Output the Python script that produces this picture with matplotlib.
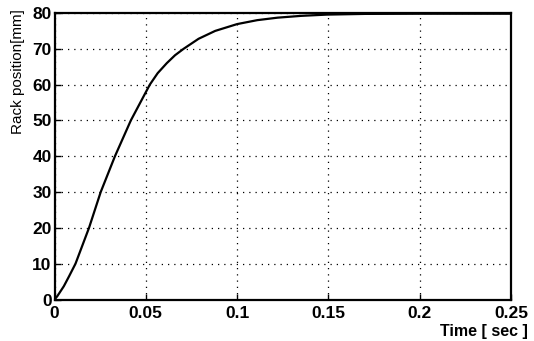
import matplotlib
matplotlib.use("Agg")
import matplotlib.pyplot as plt

time_s = [0, 0.0015, 0.0051, 0.008, 0.0115, 0.0189, 0.0253, 0.0331, 0.0418, 0.0522,
          0.0565, 0.0615, 0.066, 0.0707, 0.0789, 0.088, 0.1, 0.111, 0.1222, 0.135,
          0.149, 0.17, 0.2, 0.25]
rack_mm = [0, 0.9, 3.7, 6.5, 10, 20, 30, 40, 50, 60,
           63.2, 66.0, 68.2, 70, 72.8, 75.0, 76.9, 78.0, 78.7, 79.2,
           79.55, 79.75, 79.8, 79.8]
xticks = [0, 0.05, 0.1, 0.15, 0.2, 0.25]
xticklabels = ["0", "0.05", "0.1", "0.15", "0.2", "0.25"]
yticks = [0, 10, 20, 30, 40, 50, 60, 70, 80]

plt.rcParams['font.family'] = ['Liberation Sans', 'DejaVu Sans']
fig = plt.figure(figsize=(5.34, 3.41), dpi=100)
ax = fig.add_axes([54.5/534, 1 - 299.5/341, (511-54.5)/534, (299.5-13)/341])
ax.plot(time_s, rack_mm, color='black', lw=1.6, solid_joinstyle='round')
ax.set_xlim(0, 0.25)
ax.set_ylim(0, 80)
ax.set_xticks(xticks)
ax.set_xticklabels(xticklabels)
ax.set_yticks(yticks)
ax.grid(True, color='black', linestyle=(0, (1, 4)), lw=0.9)
ax.tick_params(direction='in', length=4, width=1, labelsize=12.5)
ax.tick_params(axis='x', pad=5)
ax.tick_params(axis='y', pad=2)
for lab in ax.get_xticklabels() + ax.get_yticklabels():
    lab.set_fontweight('bold')
for s in ax.spines.values():
    s.set_linewidth(1.6)
fig.text(18/534, 1 - 9/341, "Rack position[mm]", rotation=90, ha='center', va='top', fontsize=11)
fig.text(0.988, 1 - 331.5/341, "Time [ sec ]", ha='right', va='center', fontsize=11.5, fontweight='bold')
fig.savefig("out.png", dpi=100)
